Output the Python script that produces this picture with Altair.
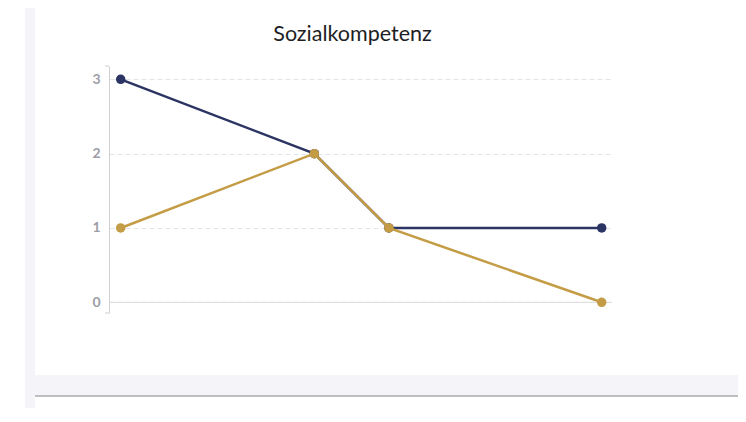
import altair as alt
import pandas as pd

# ---- data ----
x_pos = [0, 8.05, 11.15, 20]
series_names = ["Selbsteinschätzung", "Fremdeinschätzung"]
navy_vals = [3, 2, 1, 1]
gold_vals = [1, 2, 1, 0]
y_ticks = [0, 1, 2, 3]
title_text = "Sozialkompetenz"

NAVY = "#2b3462"
GOLD = "#c49c45"
PANEL = "#f4f4f9"

rows = []
for name, vals in zip(series_names, [navy_vals, gold_vals]):
    for xv, yv in zip(x_pos, vals):
        rows.append({"x": xv, "value": yv, "series": name})
df = pd.DataFrame(rows)

x_dom = [-0.486, 20.428]
y_dom = [-0.144, 3.179]

xs = alt.Scale(domain=x_dom, nice=False, zero=False)
ys = alt.Scale(domain=y_dom, nice=False, zero=False)
cs = alt.Scale(domain=series_names, range=[NAVY, GOLD])

W, H = 503, 247

one = alt.Data(values=[{"a": 1}])

# page decoration (panel frame)
strip = alt.Chart(one).mark_rect(color=PANEL).encode(
    x=alt.value(-84), x2=alt.value(-74), y=alt.value(-66), y2=alt.value(360)
)
band = alt.Chart(one).mark_rect(color=PANEL).encode(
    x=alt.value(-74), x2=alt.value(640), y=alt.value(309), y2=alt.value(329)
)
sep = alt.Chart(one).mark_rule(color="#a8a8ad", strokeWidth=1.5).encode(
    x=alt.value(-74), x2=alt.value(640), y=alt.value(330)
)

title = alt.Chart(alt.Data(values=[{"t": title_text}])).mark_text(
    font="Lato", fontSize=21.5, color="#1e1e24", align="center", baseline="alphabetic"
).encode(text="t:N", x=alt.value(243.5), y=alt.value(-25))

base = alt.Chart(df)

yaxis = alt.Axis(
    values=y_ticks, format="d", title=None, ticks=False, labelPadding=9,
    labelFont="Lato", labelFontSize=14, labelFontWeight="bold", labelColor="#9d9da8",
    domainColor="#cfcfd4", domainWidth=1,
    grid=True, gridColor="#e4e4e8", gridDash=[5, 3], gridWidth=1,
)

grid_layer = base.mark_point(opacity=0).encode(
    x=alt.X("x:Q", scale=xs, axis=None),
    y=alt.Y("value:Q", scale=ys, axis=yaxis),
)

zero_line = alt.Chart(alt.Data(values=[{"x0": x_dom[0], "x1": x_dom[1], "y": 0}])).mark_rule(
    color="#dcdce0", strokeWidth=1
).encode(x=alt.X("x0:Q", scale=xs), x2="x1:Q", y=alt.Y("y:Q", scale=ys))

end_ticks = alt.Chart(alt.Data(values=[{"v": y_dom[0]}, {"v": y_dom[1]}])).mark_rule(
    color="#cfcfd4", strokeWidth=1
).encode(y=alt.Y("v:Q", scale=ys), x=alt.value(-4), x2=alt.value(0))


def series_layers(name):
    sub = base.transform_filter(alt.datum.series == name)
    enc = dict(
        x=alt.X("x:Q", scale=xs),
        y=alt.Y("value:Q", scale=ys),
        color=alt.Color("series:N", scale=cs, legend=None),
    )
    line = sub.mark_line(strokeWidth=2.5).encode(**enc)
    pts = sub.mark_circle(size=90, opacity=1).encode(**enc)
    return [line, pts]


chart = alt.layer(
    strip, band, sep, title, grid_layer, zero_line, end_ticks,
    *series_layers(series_names[0]),
    *series_layers(series_names[1]),
).properties(
    width=W,
    height=H,
    autosize=alt.AutoSizeParams(type="none"),
    padding={"left": 101, "top": 58, "right": 126, "bottom": 95},
    background="white",
).configure_view(stroke=None)

chart.save("out.html", embed_options={"renderer": "svg", "actions": False})
